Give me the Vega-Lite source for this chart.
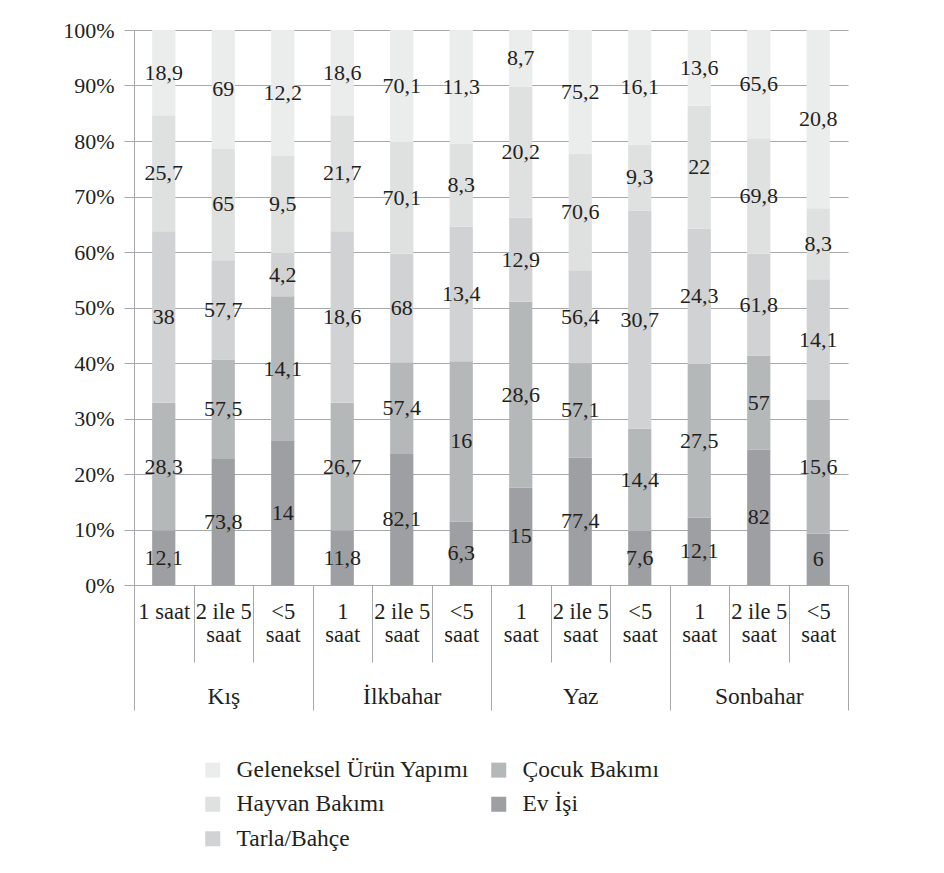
{
  "$schema": "https://vega.github.io/schema/vega-lite/v6.json",
  "width": 714,
  "height": 555,
  "autosize": {"type": "none"},
  "padding": {"left": 134, "top": 30, "right": 96, "bottom": 288},
  "background": "white",
  "config": {
    "font": "Liberation Serif",
    "view": {"stroke": null},
    "text": {"font": "Liberation Serif"},
    "axis": {"labelFont": "Liberation Serif", "titleFont": "Liberation Serif"},
    "legend": {"labelFont": "Liberation Serif"}
  },
  "data": {
    "values": [
      {"season": "Kış", "key": "Kış · 1 saat", "series": "Ev İşi", "order": 1, "value": 12.1, "label": "12,1"},
      {"season": "Kış", "key": "Kış · 1 saat", "series": "Çocuk Bakımı", "order": 2, "value": 28.3, "label": "28,3"},
      {"season": "Kış", "key": "Kış · 1 saat", "series": "Tarla/Bahçe", "order": 3, "value": 38, "label": "38"},
      {"season": "Kış", "key": "Kış · 1 saat", "series": "Hayvan Bakımı", "order": 4, "value": 25.7, "label": "25,7"},
      {"season": "Kış", "key": "Kış · 1 saat", "series": "Geleneksel Ürün Yapımı", "order": 5, "value": 18.9, "label": "18,9"},
      {"season": "Kış", "key": "Kış · 2 ile 5 saat", "series": "Ev İşi", "order": 1, "value": 73.8, "label": "73,8"},
      {"season": "Kış", "key": "Kış · 2 ile 5 saat", "series": "Çocuk Bakımı", "order": 2, "value": 57.5, "label": "57,5"},
      {"season": "Kış", "key": "Kış · 2 ile 5 saat", "series": "Tarla/Bahçe", "order": 3, "value": 57.7, "label": "57,7"},
      {"season": "Kış", "key": "Kış · 2 ile 5 saat", "series": "Hayvan Bakımı", "order": 4, "value": 65, "label": "65"},
      {"season": "Kış", "key": "Kış · 2 ile 5 saat", "series": "Geleneksel Ürün Yapımı", "order": 5, "value": 69, "label": "69"},
      {"season": "Kış", "key": "Kış · <5 saat", "series": "Ev İşi", "order": 1, "value": 14, "label": "14"},
      {"season": "Kış", "key": "Kış · <5 saat", "series": "Çocuk Bakımı", "order": 2, "value": 14.1, "label": "14,1"},
      {"season": "Kış", "key": "Kış · <5 saat", "series": "Tarla/Bahçe", "order": 3, "value": 4.2, "label": "4,2"},
      {"season": "Kış", "key": "Kış · <5 saat", "series": "Hayvan Bakımı", "order": 4, "value": 9.5, "label": "9,5"},
      {"season": "Kış", "key": "Kış · <5 saat", "series": "Geleneksel Ürün Yapımı", "order": 5, "value": 12.2, "label": "12,2"},
      {"season": "İlkbahar", "key": "İlkbahar · 1 saat", "series": "Ev İşi", "order": 1, "value": 12.1, "label": "11,8"},
      {"season": "İlkbahar", "key": "İlkbahar · 1 saat", "series": "Çocuk Bakımı", "order": 2, "value": 28.3, "label": "26,7"},
      {"season": "İlkbahar", "key": "İlkbahar · 1 saat", "series": "Tarla/Bahçe", "order": 3, "value": 38, "label": "18,6"},
      {"season": "İlkbahar", "key": "İlkbahar · 1 saat", "series": "Hayvan Bakımı", "order": 4, "value": 25.7, "label": "21,7"},
      {"season": "İlkbahar", "key": "İlkbahar · 1 saat", "series": "Geleneksel Ürün Yapımı", "order": 5, "value": 18.9, "label": "18,6"},
      {"season": "İlkbahar", "key": "İlkbahar · 2 ile 5 saat", "series": "Ev İşi", "order": 1, "value": 82.1, "label": "82,1"},
      {"season": "İlkbahar", "key": "İlkbahar · 2 ile 5 saat", "series": "Çocuk Bakımı", "order": 2, "value": 57.4, "label": "57,4"},
      {"season": "İlkbahar", "key": "İlkbahar · 2 ile 5 saat", "series": "Tarla/Bahçe", "order": 3, "value": 68, "label": "68"},
      {"season": "İlkbahar", "key": "İlkbahar · 2 ile 5 saat", "series": "Hayvan Bakımı", "order": 4, "value": 70.1, "label": "70,1"},
      {"season": "İlkbahar", "key": "İlkbahar · 2 ile 5 saat", "series": "Geleneksel Ürün Yapımı", "order": 5, "value": 70.1, "label": "70,1"},
      {"season": "İlkbahar", "key": "İlkbahar · <5 saat", "series": "Ev İşi", "order": 1, "value": 6.3, "label": "6,3"},
      {"season": "İlkbahar", "key": "İlkbahar · <5 saat", "series": "Çocuk Bakımı", "order": 2, "value": 16, "label": "16"},
      {"season": "İlkbahar", "key": "İlkbahar · <5 saat", "series": "Tarla/Bahçe", "order": 3, "value": 13.4, "label": "13,4"},
      {"season": "İlkbahar", "key": "İlkbahar · <5 saat", "series": "Hayvan Bakımı", "order": 4, "value": 8.3, "label": "8,3"},
      {"season": "İlkbahar", "key": "İlkbahar · <5 saat", "series": "Geleneksel Ürün Yapımı", "order": 5, "value": 11.3, "label": "11,3"},
      {"season": "Yaz", "key": "Yaz · 1 saat", "series": "Ev İşi", "order": 1, "value": 15, "label": "15"},
      {"season": "Yaz", "key": "Yaz · 1 saat", "series": "Çocuk Bakımı", "order": 2, "value": 28.6, "label": "28,6"},
      {"season": "Yaz", "key": "Yaz · 1 saat", "series": "Tarla/Bahçe", "order": 3, "value": 12.9, "label": "12,9"},
      {"season": "Yaz", "key": "Yaz · 1 saat", "series": "Hayvan Bakımı", "order": 4, "value": 20.2, "label": "20,2"},
      {"season": "Yaz", "key": "Yaz · 1 saat", "series": "Geleneksel Ürün Yapımı", "order": 5, "value": 8.7, "label": "8,7"},
      {"season": "Yaz", "key": "Yaz · 2 ile 5 saat", "series": "Ev İşi", "order": 1, "value": 77.4, "label": "77,4"},
      {"season": "Yaz", "key": "Yaz · 2 ile 5 saat", "series": "Çocuk Bakımı", "order": 2, "value": 57.1, "label": "57,1"},
      {"season": "Yaz", "key": "Yaz · 2 ile 5 saat", "series": "Tarla/Bahçe", "order": 3, "value": 56.4, "label": "56,4"},
      {"season": "Yaz", "key": "Yaz · 2 ile 5 saat", "series": "Hayvan Bakımı", "order": 4, "value": 70.6, "label": "70,6"},
      {"season": "Yaz", "key": "Yaz · 2 ile 5 saat", "series": "Geleneksel Ürün Yapımı", "order": 5, "value": 75.2, "label": "75,2"},
      {"season": "Yaz", "key": "Yaz · <5 saat", "series": "Ev İşi", "order": 1, "value": 7.6, "label": "7,6"},
      {"season": "Yaz", "key": "Yaz · <5 saat", "series": "Çocuk Bakımı", "order": 2, "value": 14.4, "label": "14,4"},
      {"season": "Yaz", "key": "Yaz · <5 saat", "series": "Tarla/Bahçe", "order": 3, "value": 30.7, "label": "30,7"},
      {"season": "Yaz", "key": "Yaz · <5 saat", "series": "Hayvan Bakımı", "order": 4, "value": 9.3, "label": "9,3"},
      {"season": "Yaz", "key": "Yaz · <5 saat", "series": "Geleneksel Ürün Yapımı", "order": 5, "value": 16.1, "label": "16,1"},
      {"season": "Sonbahar", "key": "Sonbahar · 1 saat", "series": "Ev İşi", "order": 1, "value": 12.1, "label": "12,1"},
      {"season": "Sonbahar", "key": "Sonbahar · 1 saat", "series": "Çocuk Bakımı", "order": 2, "value": 27.5, "label": "27,5"},
      {"season": "Sonbahar", "key": "Sonbahar · 1 saat", "series": "Tarla/Bahçe", "order": 3, "value": 24.3, "label": "24,3"},
      {"season": "Sonbahar", "key": "Sonbahar · 1 saat", "series": "Hayvan Bakımı", "order": 4, "value": 22, "label": "22"},
      {"season": "Sonbahar", "key": "Sonbahar · 1 saat", "series": "Geleneksel Ürün Yapımı", "order": 5, "value": 13.6, "label": "13,6"},
      {"season": "Sonbahar", "key": "Sonbahar · 2 ile 5 saat", "series": "Ev İşi", "order": 1, "value": 82, "label": "82"},
      {"season": "Sonbahar", "key": "Sonbahar · 2 ile 5 saat", "series": "Çocuk Bakımı", "order": 2, "value": 57, "label": "57"},
      {"season": "Sonbahar", "key": "Sonbahar · 2 ile 5 saat", "series": "Tarla/Bahçe", "order": 3, "value": 61.8, "label": "61,8"},
      {"season": "Sonbahar", "key": "Sonbahar · 2 ile 5 saat", "series": "Hayvan Bakımı", "order": 4, "value": 69.8, "label": "69,8"},
      {"season": "Sonbahar", "key": "Sonbahar · 2 ile 5 saat", "series": "Geleneksel Ürün Yapımı", "order": 5, "value": 65.6, "label": "65,6"},
      {"season": "Sonbahar", "key": "Sonbahar · <5 saat", "series": "Ev İşi", "order": 1, "value": 6, "label": "6"},
      {"season": "Sonbahar", "key": "Sonbahar · <5 saat", "series": "Çocuk Bakımı", "order": 2, "value": 15.6, "label": "15,6"},
      {"season": "Sonbahar", "key": "Sonbahar · <5 saat", "series": "Tarla/Bahçe", "order": 3, "value": 14.1, "label": "14,1"},
      {"season": "Sonbahar", "key": "Sonbahar · <5 saat", "series": "Hayvan Bakımı", "order": 4, "value": 8.3, "label": "8,3"},
      {"season": "Sonbahar", "key": "Sonbahar · <5 saat", "series": "Geleneksel Ürün Yapımı", "order": 5, "value": 20.8, "label": "20,8"}
    ]
  },
  "layer": [
    {
      "transform": [
        {"stack": "value", "groupby": ["key"], "sort": [{"field": "order", "order": "ascending"}], "offset": "normalize", "as": ["y0", "y1"]}
      ],
      "layer": [
        {
          "mark": {"type": "bar", "width": {"band": 0.39}},
          "encoding": {
            "x": {
              "field": "key", "type": "nominal",
              "sort": ["Kış · 1 saat", "Kış · 2 ile 5 saat", "Kış · <5 saat", "İlkbahar · 1 saat", "İlkbahar · 2 ile 5 saat", "İlkbahar · <5 saat", "Yaz · 1 saat", "Yaz · 2 ile 5 saat", "Yaz · <5 saat", "Sonbahar · 1 saat", "Sonbahar · 2 ile 5 saat", "Sonbahar · <5 saat"],
              "scale": {"paddingInner": 0, "paddingOuter": 0},
              "axis": {
                "orient": "bottom", "title": null, "labelAngle": 0, "grid": false,
                "domain": true, "domainColor": "#a6a8ab", "domainWidth": 1,
                "ticks": true, "tickBand": "extent", "tickSize": 77, "tickColor": "#a6a8ab", "tickWidth": 1,
                "labelFontSize": 22.5, "labelColor": "#231f20", "labelPadding": -62, "labelLineHeight": 23,
                "labelOverlap": false, "labelBound": false, "labelFlush": false,
                "labelExpr": "!isString(datum.value) ? '' : (indexof(datum.value, 'Kış') == 0 && indexof(datum.value, '1 saat') > 0 ? '1 saat' : [replace(split(datum.value, ' · ')[1], ' saat', ''), 'saat'])"
              }
            },
            "y": {
              "field": "y0", "type": "quantitative",
              "scale": {"domain": [0, 1]},
              "axis": {
                "title": null, "format": ".0%", "values": [0, 0.1, 0.2, 0.3, 0.4, 0.5, 0.6, 0.7, 0.8, 0.9, 1],
                "grid": true, "gridColor": "#a6a8ab", "gridWidth": 1,
                "domainColor": "#a6a8ab", "tickColor": "#a6a8ab", "tickSize": 10,
                "labelFontSize": 22, "labelColor": "#231f20", "labelPadding": 10
              }
            },
            "y2": {"field": "y1"},
            "color": {
              "field": "series", "type": "nominal",
              "scale": {
                "domain": ["Geleneksel Ürün Yapımı", "Hayvan Bakımı", "Tarla/Bahçe", "Çocuk Bakımı", "Ev İşi"],
                "range": ["#ebecec", "#dfe0e0", "#d1d2d4", "#b5b8b9", "#9d9fa2"]
              },
              "legend": {
                "title": null, "orient": "none", "legendX": 67, "legendY": 728, "columns": 2,
                "symbolType": "square", "symbolSize": 225, "symbolStrokeWidth": 0,
                "labelFontSize": 23.5, "labelColor": "#231f20", "labelOffset": 12,
                "rowPadding": 9.5, "columnPadding": 17, "padding": 0, "labelLimit": 400
              }
            }
          }
        },
        {
          "transform": [
            {"fold": ["y0", "y1"], "as": ["edge", "pos"]},
            {"aggregate": [{"op": "mean", "field": "pos", "as": "mid"}], "groupby": ["key", "label", "series"]}
          ],
          "mark": {"type": "text", "fontSize": 22, "color": "#231f20", "baseline": "middle", "align": "center"},
          "encoding": {
            "x": {
              "field": "key", "type": "nominal",
              "sort": ["Kış · 1 saat", "Kış · 2 ile 5 saat", "Kış · <5 saat", "İlkbahar · 1 saat", "İlkbahar · 2 ile 5 saat", "İlkbahar · <5 saat", "Yaz · 1 saat", "Yaz · 2 ile 5 saat", "Yaz · <5 saat", "Sonbahar · 1 saat", "Sonbahar · 2 ile 5 saat", "Sonbahar · <5 saat"]
            },
            "y": {"field": "mid", "type": "quantitative"},
            "text": {"field": "label", "type": "nominal"}
          }
        }
      ]
    },
    {
      "mark": {"type": "rule", "opacity": 0},
      "encoding": {
        "x": {
          "field": "season", "type": "nominal",
          "sort": ["Kış", "İlkbahar", "Yaz", "Sonbahar"],
          "scale": {"paddingInner": 0, "paddingOuter": 0},
          "axis": {
            "orient": "bottom", "title": null, "labelAngle": 0, "grid": false, "domain": false,
            "ticks": true, "tickBand": "extent", "tickSize": 125, "tickColor": "#a6a8ab", "tickWidth": 1,
            "labelFontSize": 23.5, "labelColor": "#231f20", "labelPadding": -26,
            "labelOverlap": false, "labelBound": false, "labelFlush": false
          }
        }
      }
    }
  ],
  "resolve": {"scale": {"x": "independent"}, "axis": {"x": "independent"}}
}
